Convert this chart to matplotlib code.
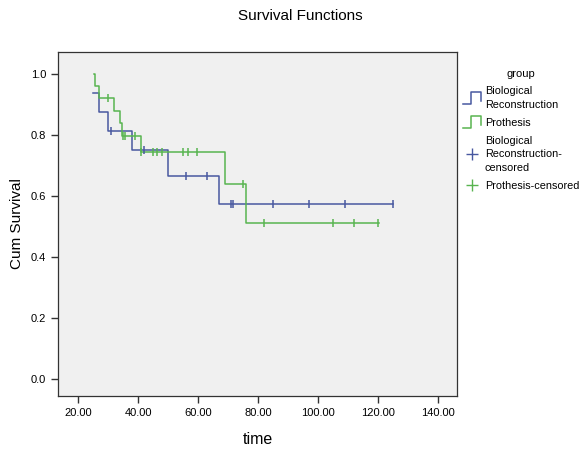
import numpy as np
import matplotlib
matplotlib.use("Agg")
import matplotlib.pyplot as plt
from matplotlib.lines import Line2D
from matplotlib.legend_handler import HandlerBase
from matplotlib.ticker import FormatStrFormatter

plt.rcParams['font.family'] = ['Liberation Sans', 'DejaVu Sans']

# Kaplan-Meier steps (time where the curve changes, survival after it)
bio_times = [25.1, 26.8, 30.1, 38.1, 50.0, 67.0, 125.0]
bio_surv = [0.9375, 0.875, 0.8125, 0.75, 0.667, 0.573, 0.573]
bio_cens = [30.9, 41.8, 55.9, 63.1, 71.0, 71.8, 84.9, 97.0, 108.8, 124.9]

pro_times = [25.3, 25.7, 26.8, 32.0, 34.0, 34.8, 41.0, 69.0, 76.0, 120.3]
pro_surv = [1.0, 0.96, 0.92, 0.88, 0.84, 0.795, 0.745, 0.638, 0.51, 0.51]
pro_cens = [30.1, 35.0, 35.6, 38.8, 41.0, 44.9, 46.4, 47.9, 55.1, 56.6, 59.8,
            74.9, 81.8, 104.9, 112.0, 119.8]

blue = '#4858a0'
green = '#58b450'


def surv_at(times, surv, t):
    i = np.searchsorted(times, t, side='right') - 1
    return np.array(surv)[i]


class StepHandler(HandlerBase):
    def create_artists(self, legend, orig_handle, xdescent, ydescent,
                       width, height, fontsize, trans):
        w, h = width, height * 1.6
        y0 = -ydescent - height * 0.3
        xs = np.array([0, 0.45, 0.45, 0.95, 0.95]) * w - xdescent
        ys = np.array([0, 0, 1, 1, 0.25]) * h + y0
        ln = Line2D(xs, ys, color=orig_handle.get_color(), lw=1.1, transform=trans)
        return [ln]


fig = plt.figure(figsize=(5.88, 4.5), dpi=100)
ax = fig.add_axes([58 / 588, 54 / 450, 399 / 588, 344 / 450])
ax.set_facecolor('#f0f0f0')

ax.step(bio_times, bio_surv, where='post', color=blue, lw=1.1)
ax.step(pro_times, pro_surv, where='post', color=green, lw=1.1)
ax.plot(bio_cens, surv_at(bio_times, bio_surv, bio_cens), ls='none',
        marker='|', ms=6, mew=1.1, color=blue)
ax.plot(pro_cens, surv_at(pro_times, pro_surv, pro_cens), ls='none',
        marker='|', ms=6, mew=1.1, color=green)

ax.set_xlim(13.3, 146.3)
ax.set_ylim(-0.056, 1.072)
ax.set_xticks([20, 40, 60, 80, 100, 120, 140])
ax.set_yticks([0.0, 0.2, 0.4, 0.6, 0.8, 1.0])
ax.xaxis.set_major_formatter(FormatStrFormatter('%.2f'))
ax.yaxis.set_major_formatter(FormatStrFormatter('%.1f'))
ax.tick_params(length=5, width=1, color='#333333', labelsize=8)
for s in ax.spines.values():
    s.set_color('#333333')
    s.set_linewidth(0.9)

ax.set_xlabel('time', fontsize=11.5, labelpad=10)
ax.set_ylabel('Cum Survival', fontsize=11, labelpad=5)
fig.suptitle('Survival Functions', x=0.51, y=0.98, fontsize=11)

h_bio = Line2D([], [], color=blue)
h_pro = Line2D([], [], color=green)
h_bio_c = Line2D([], [], color=blue, ls='none', marker='+', ms=9, mew=1)
h_pro_c = Line2D([], [], color=green, ls='none', marker='+', ms=9, mew=1)
leg = fig.legend([h_bio, h_pro, h_bio_c, h_pro_c],
                 ['Biological\nReconstruction', 'Prothesis',
                  'Biological\nReconstruction-\ncensored', 'Prothesis-censored'],
                 handler_map={h_bio: StepHandler(), h_pro: StepHandler()},
                 loc='upper left', bbox_to_anchor=(455 / 588, 1 - 61 / 450),
                 frameon=False, title='group', fontsize=7.8, title_fontsize=8,
                 handlelength=1.8, handletextpad=0.25, labelspacing=0.72,
                 borderpad=0.2, alignment='center')
for t in leg.get_texts():
    t.set_linespacing(1.45)

fig.savefig('out.png', dpi=100)
